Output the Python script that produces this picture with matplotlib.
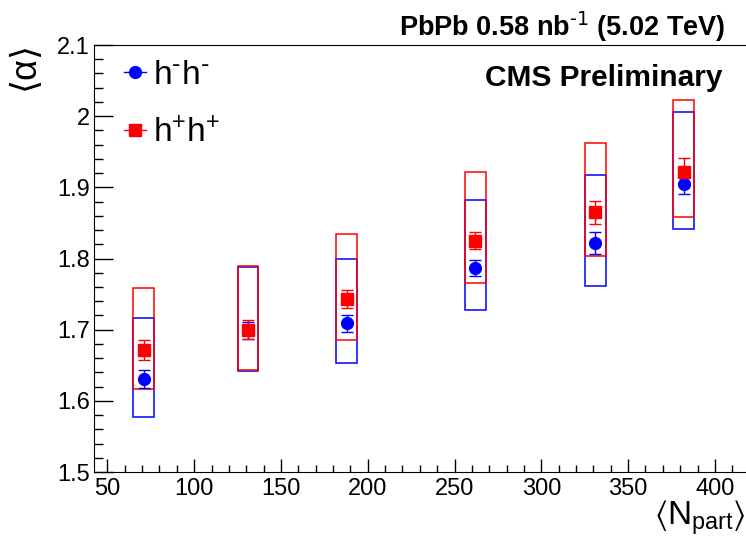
import matplotlib

matplotlib.use("Agg")
import matplotlib.pyplot as plt
from matplotlib.lines import Line2D
from matplotlib.patches import Rectangle
from matplotlib.ticker import MultipleLocator

plt.rcParams["font.family"] = ["Liberation Sans", "DejaVu Sans"]
plt.rcParams["mathtext.default"] = "regular"

# <N_part> centrality points
npart = [71, 131, 188, 262, 331, 382]

# h-h- : mean alpha, stat error, systematic band
alpha_mm = [1.631, 1.699, 1.709, 1.787, 1.822, 1.905]
stat_mm = [0.013, 0.012, 0.012, 0.011, 0.015, 0.014]
sys_lo_mm = [1.577, 1.642, 1.653, 1.728, 1.761, 1.842]
sys_hi_mm = [1.717, 1.788, 1.800, 1.882, 1.918, 2.006]

# h+h+
alpha_pp = [1.671, 1.700, 1.743, 1.825, 1.865, 1.922]
stat_pp = [0.014, 0.013, 0.013, 0.012, 0.016, 0.019]
sys_lo_pp = [1.616, 1.644, 1.685, 1.765, 1.803, 1.858]
sys_hi_pp = [1.759, 1.790, 1.835, 1.921, 1.963, 2.023]

BOX_HALF = 6

fig = plt.figure(figsize=(7.46, 5.41), dpi=100)
ax = fig.add_axes([0.126, 0.1275, 0.88, 0.7893])


def draw_series(lo, hi, y, err, color, marker):
    for x, a, b in zip(npart, lo, hi):
        ax.add_patch(Rectangle((x - BOX_HALF, a), 2 * BOX_HALF, b - a,
                               fill=False, edgecolor=color, linewidth=1.1))
    ax.errorbar(npart, y, yerr=err, fmt=marker, color=color, markersize=8.5,
                capsize=4, elinewidth=1, capthick=1)


draw_series(sys_lo_mm, sys_hi_mm, alpha_mm, stat_mm, "blue", "o")
draw_series(sys_lo_pp, sys_hi_pp, alpha_pp, stat_pp, "red", "s")

ax.set_xlim(42.3, 420.5)
ax.set_ylim(1.5, 2.1)
ax.xaxis.set_major_locator(MultipleLocator(50))
ax.xaxis.set_minor_locator(MultipleLocator(10))
ax.yaxis.set_minor_locator(MultipleLocator(0.02))
ax.set_yticks([1.5, 1.6, 1.7, 1.8, 1.9, 2.0, 2.1])
ax.set_yticklabels(["1.5", "1.6", "1.7", "1.8", "1.9", "2", "2.1"])
ax.tick_params(axis="both", which="both", direction="in", top=False, right=False,
               labelsize=17, width=1)
ax.tick_params(axis="x", which="major", length=9.4, pad=4)
ax.tick_params(axis="x", which="minor", length=4.7)
ax.tick_params(axis="y", which="major", length=13.4, pad=3)
ax.tick_params(axis="y", which="minor", length=6.7)
ax.spines["right"].set_visible(False)

handles = [
    Line2D([], [], color="blue", marker="o", markersize=8.5, linewidth=1),
    Line2D([], [], color="red", marker="s", markersize=8.5, linewidth=1),
]
ax.legend(handles, [r"h$^{\text{-}}$h$^{\text{-}}$", "h$^{+}$h$^{+}$"], loc="upper left",
          bbox_to_anchor=(0.0, 1.035), frameon=False, fontsize=24,
          handlelength=0.67, handletextpad=0.2, labelspacing=0.8)

fig.text(0.973, 0.95, r"PbPb 0.58 nb$^{\text{-1}}$ (5.02 TeV)", ha="right", va="center",
         fontsize=19.5, fontweight="bold")
fig.text(0.968, 0.856, "CMS Preliminary", ha="right", va="center",
         fontsize=21.5, fontweight="bold")
fig.text(0.033, 0.925, "⟨α⟩", rotation=90, ha="center", va="top", fontsize=26)
fig.text(1.0, 0.03, r"$\langle N_{part}\rangle$", ha="right", va="baseline", fontsize=24)

fig.savefig("out.png", dpi=100)
